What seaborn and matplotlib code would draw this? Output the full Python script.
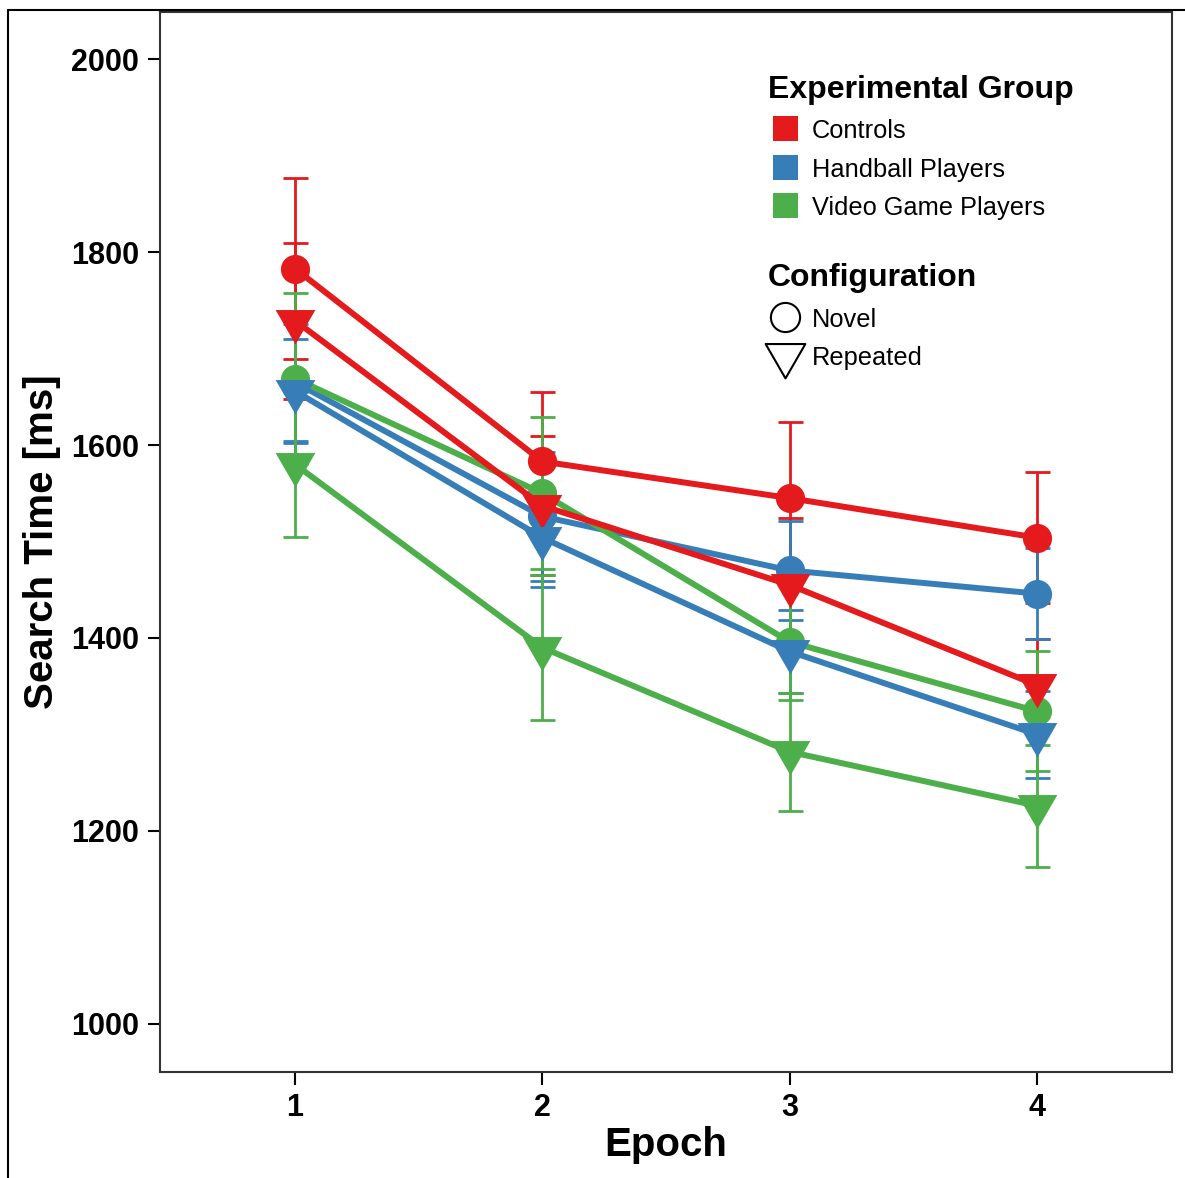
import matplotlib
matplotlib.use("Agg")
import matplotlib.pyplot as plt
import pandas as pd
import seaborn as sns
from matplotlib.lines import Line2D
from matplotlib.path import Path

# values (search time in ms, +/- error)
epochs = [1, 2, 3, 4]
groups = ["Controls", "Handball Players", "Video Game Players"]
configs = ["Novel", "Repeated"]

controls_novel = [1783, 1583, 1545, 1504]
controls_novel_err = [94, 72, 79, 68]
controls_repeated = [1729, 1537, 1455, 1351]
controls_repeated_err = [81, 72, 69, 48]

handball_novel = [1665, 1526, 1470, 1446]
handball_novel_err = [61, 67, 51, 47]
handball_repeated = [1656, 1504, 1386, 1300]
handball_repeated_err = [54, 51, 43, 45]

vgp_novel = [1669, 1550, 1396, 1324]
vgp_novel_err = [89, 79, 60, 62]
vgp_repeated = [1580, 1390, 1282, 1226]
vgp_repeated_err = [75, 75, 61, 63]

colors = {"Controls": "#E41A1C", "Handball Players": "#377EB8", "Video Game Players": "#4DAF4A"}

series = {
    ("Controls", "Novel"): (controls_novel, controls_novel_err),
    ("Controls", "Repeated"): (controls_repeated, controls_repeated_err),
    ("Handball Players", "Novel"): (handball_novel, handball_novel_err),
    ("Handball Players", "Repeated"): (handball_repeated, handball_repeated_err),
    ("Video Game Players", "Novel"): (vgp_novel, vgp_novel_err),
    ("Video Game Players", "Repeated"): (vgp_repeated, vgp_repeated_err),
}

rows = []
for (group, config), (means, errs) in series.items():
    for ep, m, e in zip(epochs, means, errs):
        rows.append({"epoch": ep, "time": m, "err": e, "group": group, "config": config})
df = pd.DataFrame(rows)

sns.set_theme(style="ticks")
plt.rcParams["font.family"] = ["Liberation Sans", "DejaVu Sans"]
plt.rcParams["text.color"] = "black"
plt.rcParams["axes.labelcolor"] = "black"

# downward equilateral triangle centred on its centroid (like ggplot shape)
tri = Path([(0, -1), (-0.866, 0.5), (0.866, 0.5), (0, -1)], closed=True)
marker_map = {"Novel": ("o", 21), "Repeated": (tri, 33)}

fig = plt.figure(figsize=(11.85, 11.78), dpi=100)
ax = fig.add_axes([160 / 1185, 1 - 1072 / 1178, 1012 / 1185, 1060 / 1178])

# error bars first, so lines and points sit on top
for (group, config), sub in df.groupby(["group", "config"]):
    ax.errorbar(sub["epoch"], sub["time"], yerr=sub["err"], fmt="none",
                ecolor=colors[group], elinewidth=2, capsize=9, capthick=2, zorder=1.5)

for config in configs:
    mk, ms = marker_map[config]
    sns.lineplot(data=df[df["config"] == config], x="epoch", y="time", hue="group",
                 hue_order=groups, palette=colors, marker=mk, markersize=ms,
                 markeredgewidth=0, linewidth=4.3, errorbar=None, legend=False, ax=ax)

ax.set_xlim(0.454, 4.546)
ax.set_ylim(950, 2049)
ax.set_xticks(epochs)
ax.set_yticks([1000, 1200, 1400, 1600, 1800, 2000])
ax.tick_params(axis="both", direction="out", length=9, width=1.5, labelsize=22, colors="black", pad=6)
for lab in ax.get_xticklabels() + ax.get_yticklabels():
    lab.set_fontweight("bold")
ax.set_xlabel("Epoch", fontsize=29, fontweight="bold", labelpad=2)
ax.set_ylabel("Search Time [ms]", fontsize=29, fontweight="bold", labelpad=7)
for sp in ax.spines.values():
    sp.set_visible(True)
    sp.set_color("#333333")
    sp.set_linewidth(1.5)

# legends
leg_kw = dict(loc="upper left", frameon=False, alignment="left", fontsize=18.3,
              title_fontproperties={"weight": "bold", "size": 23},
              handlelength=1.36, handleheight=1.0, handletextpad=0.36,
              labelspacing=0.53, borderpad=0, borderaxespad=0)

group_handles = [Line2D([], [], linestyle="none", marker="s", markersize=18,
                        markerfacecolor=colors[g], markeredgewidth=0) for g in groups]
leg1 = ax.legend(group_handles, groups, title="Experimental Group",
                 bbox_to_anchor=(0.601, 0.941), **leg_kw)
ax.add_artist(leg1)

config_handles = [
    Line2D([], [], linestyle="none", marker="o", markersize=21, markerfacecolor="none",
           markeredgecolor="black", markeredgewidth=1.5),
    Line2D([], [], linestyle="none", marker=tri, markersize=33, markerfacecolor="none",
           markeredgecolor="black", markeredgewidth=1.5),
]
ax.legend(config_handles, configs, title="Configuration",
          bbox_to_anchor=(0.601, 0.763), **leg_kw)

# outer frame edges of the original panel
fig.add_artist(Line2D([8 / 1185, 8 / 1185], [0, 1 - 10 / 1178], transform=fig.transFigure,
                      color="black", linewidth=1.5))
fig.add_artist(Line2D([8 / 1185, 1], [1 - 10 / 1178, 1 - 10 / 1178], transform=fig.transFigure,
                      color="black", linewidth=1.5))

fig.savefig("out.png", dpi=100)
